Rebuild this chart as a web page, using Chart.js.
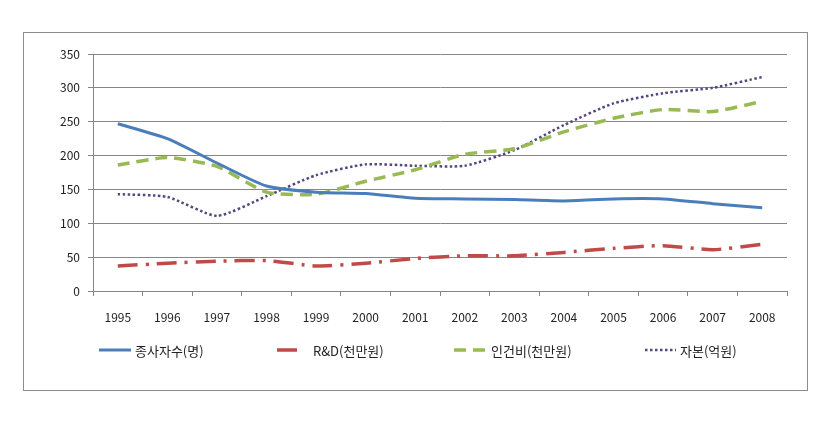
<!DOCTYPE html>
<html>
<head>
<meta charset="utf-8">
<script src="https://cdn.jsdelivr.net/npm/chart.js@4.4.1/dist/chart.umd.min.js"></script>
<style>
  html, body { margin: 0; padding: 0; background: #fff; }
  #wrap { width: 835px; height: 424px; position: relative; }
</style>
</head>
<body>
<div id="wrap"><canvas id="chartCanvas" width="835" height="424"></canvas></div>
<script>
// Chart data
const years = ['1995', '1996', '1997', '1998', '1999', '2000', '2001',
               '2002', '2003', '2004', '2005', '2006', '2007', '2008'];
const employees = [247, 225, 189, 155, 146, 144, 137, 136, 135, 133, 136, 136, 129, 123];
const rnd = [37, 41, 44, 45, 37, 41, 48, 52, 52, 57, 63, 67, 61, 69];
const laborCost = [186, 197, 184, 146, 143, 162, 179, 202, 210, 235, 255, 268, 265, 280];
const capital = [143, 139, 111, 140, 171, 187, 185, 185, 208, 245, 277, 292, 300, 316];
const seriesNames = ['종사자수(명)', 'R&D(천만원)', '인건비(천만원)', '자본(억원)'];
const yTicks = [0, 50, 100, 150, 200, 250, 300, 350];

const fontFamily = '"Noto Sans CJK KR", "Noto Sans", sans-serif';

// Frame around the whole chart, like the Excel chart area
const framePlugin = {
    id: 'frame',
    beforeDraw(chart) {
        const ctx = chart.ctx;
        ctx.save();
        ctx.fillStyle = '#ffffff';
        ctx.fillRect(0, 0, chart.width, chart.height);
        ctx.strokeStyle = '#8c8c8c';
        ctx.lineWidth = 1;
        ctx.strokeRect(23.5, 32.5, 784, 358);
        ctx.restore();
    }
};

// Legend drawn in four fixed columns under the axis
const legendColumns = [
    { lineFrom: 99, lineTo: 131, textX: 135 },
    { lineFrom: 277, lineTo: 300, textX: 313 },
    { lineFrom: 454, lineTo: 485, textX: 491 },
    { lineFrom: 645, lineTo: 676, textX: 680 }
];
const legendPlugin = {
    id: 'columnLegend',
    afterDraw(chart) {
        const ctx = chart.ctx;
        const y = 350;
        chart.data.datasets.forEach((ds, i) => {
            const col = legendColumns[i];
            ctx.save();
            ctx.strokeStyle = ds.borderColor;
            ctx.lineWidth = ds.borderWidth;
            ctx.setLineDash(ds.borderDash || []);
            ctx.lineCap = 'butt';
            ctx.beginPath();
            ctx.moveTo(col.lineFrom, y);
            ctx.lineTo(col.lineTo, y);
            ctx.stroke();
            ctx.setLineDash([]);
            ctx.fillStyle = '#222';
            ctx.font = '13px ' + fontFamily;
            ctx.textBaseline = 'middle';
            ctx.fillText(ds.label, col.textX, y + 1);
            ctx.restore();
        });
    }
};

window.onload = function() {
    const ctx = document.getElementById('chartCanvas').getContext('2d');

    new Chart(ctx, {
        type: 'line',
        data: {
            labels: years,
            datasets: [
                {
                    label: seriesNames[0],
                    data: employees,
                    borderColor: '#4a7ebb',
                    borderWidth: 3,
                    pointRadius: 0,
                    tension: 0.2
                },
                {
                    label: seriesNames[1],
                    data: rnd,
                    borderColor: '#be4b48',
                    borderWidth: 3.5,
                    borderDash: [20, 8, 3, 8],
                    pointRadius: 0,
                    tension: 0.2
                },
                {
                    label: seriesNames[2],
                    data: laborCost,
                    borderColor: '#98b954',
                    borderWidth: 3.5,
                    borderDash: [12, 7],
                    pointRadius: 0,
                    tension: 0.2
                },
                {
                    label: seriesNames[3],
                    data: capital,
                    borderColor: '#54467e',
                    borderWidth: 2.5,
                    borderDash: [2.5, 2.5],
                    pointRadius: 0,
                    tension: 0.2
                }
            ]
        },
        options: {
            responsive: false,
            animation: false,
            layout: {
                padding: { left: 0, right: 48, top: 54, bottom: 0 }
            },
            plugins: {
                legend: { display: false },
                tooltip: { enabled: false }
            },
            scales: {
                x: {
                    offset: true,
                    grid: {
                        offset: true,
                        drawOnChartArea: false,
                        drawTicks: true,
                        tickLength: 5,
                        color: '#868686'
                    },
                    border: { color: '#868686' },
                    ticks: {
                        color: '#222',
                        padding: 14,
                        maxRotation: 0,
                        font: { family: fontFamily, size: 12 }
                    },
                    afterFit: function(scale) {
                        scale.height = 424 - 291;
                    }
                },
                y: {
                    min: 0,
                    max: 350,
                    afterBuildTicks: function(scale) {
                        scale.ticks = yTicks.map(v => ({ value: v }));
                    },
                    grid: {
                        color: '#868686',
                        tickLength: 5
                    },
                    border: { color: '#868686' },
                    ticks: {
                        color: '#222',
                        padding: 8,
                        font: { family: fontFamily, size: 12 }
                    },
                    afterFit: function(scale) {
                        scale.width = 93;
                    }
                }
            }
        },
        plugins: [framePlugin, legendPlugin]
    });
};
</script>
</body>
</html>
